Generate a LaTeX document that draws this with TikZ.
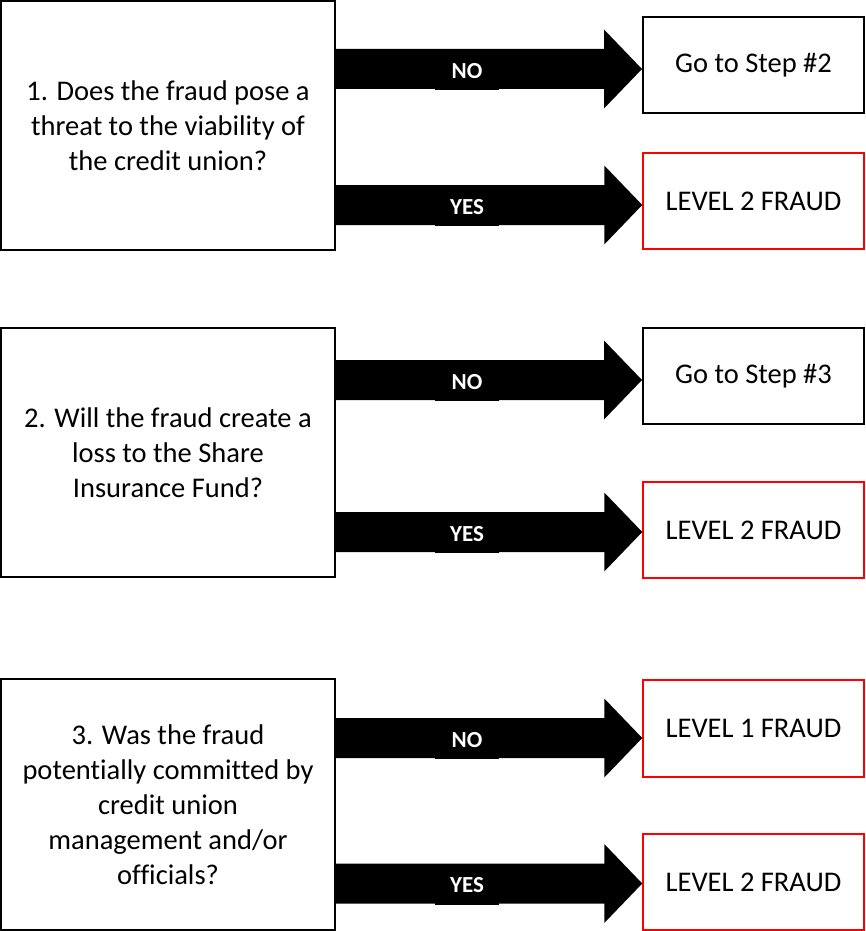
\documentclass[tikz,border=0pt]{standalone}
\usepackage{fontspec}
\setmainfont[Ligatures=NoCommon]{Carlito}
\usetikzlibrary{calc}
\newcommand\blockarr[5]{%
  \coordinate (tip#5) at ($(#2.west)+(0,#3)$);
  \fill[black] ($(#1.east|-tip#5)+(0,-20)$) -- ($(tip#5)+(-38,-20)$) -- ($(tip#5)+(-38,-39.5)$) -- (tip#5)
    -- ($(tip#5)+(-38,39.5)$) -- ($(tip#5)+(-38,20)$) -- ($(#1.east|-tip#5)+(0,20)$) -- cycle;
  \node[lbl] (lab#5) at ($(#1.east|-tip#5)+(131,2)$) {#4};
}
\begin{document}
\begin{tikzpicture}[x=1pt,y=-1pt,
  qbox/.style={draw=black,line width=2pt,minimum width=334pt,minimum height=249pt,inner sep=0pt,
    align=center,font=\fontsize{28.5}{35}\selectfont},
  rbox/.style={draw=black,line width=2pt,minimum width=221pt,minimum height=96pt,inner sep=0pt,
    font=\fontsize{28.5}{34}\selectfont},
  redbox/.style={rbox,draw=red,line width=1.5pt},
  lbl/.style={text=white,font=\fontsize{23}{23}\selectfont\bfseries,fill=black,inner sep=0pt,
    minimum width=64pt,minimum height=38pt}]
\useasboundingbox (0,0) rectangle (866,931);
\fill[white] (0,0) rectangle (866,931);

\node[qbox] (q1) at (168,125.5) {1. Does the fraud pose a\\threat to the viability of\\the credit union?};
\node[qbox] (q2) at (168,452.5) {2. Will the fraud create a\\loss to the Share\\Insurance Fund?};
\node[qbox,minimum height=251pt] (q3) at (168,804.5) {3. Was the fraud\\potentially committed by\\credit union\\management and/or\\officials?};

\node[rbox] (r1) at (753.5,65) {Go to Step \#2};
\node[redbox] (r2) at (753.5,201) {LEVEL 2 FRAUD};
\node[rbox] (r3) at (753.5,376) {Go to Step \#3};
\node[redbox] (r4) at (753.5,530) {LEVEL 2 FRAUD};
\node[redbox,minimum height=97pt] (r5) at (753.5,728.5) {LEVEL 1 FRAUD};
\node[redbox] (r6) at (753.5,882) {LEVEL 2 FRAUD};

\blockarr{q1}{r1}{4}{NO}{a}
\blockarr{q1}{r2}{4}{YES}{b}
\blockarr{q2}{r3}{4}{NO}{c}
\blockarr{q2}{r4}{2}{YES}{d}
\blockarr{q3}{r5}{9.5}{NO}{e}
\blockarr{q3}{r6}{1.5}{YES}{f}
\end{tikzpicture}
\end{document}
